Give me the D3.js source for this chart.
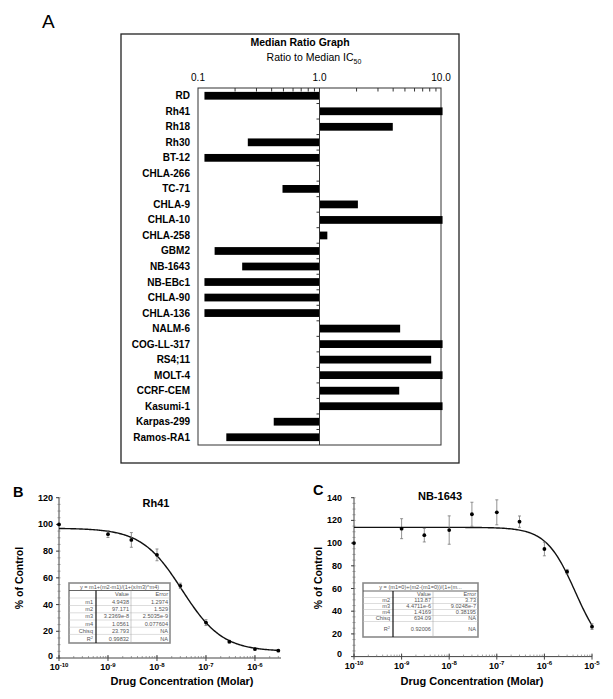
<!DOCTYPE html>
<html><head><meta charset="utf-8">
<script src="https://cdn.jsdelivr.net/npm/d3@7"></script>
<style>body{margin:0;background:#fff}svg{display:block;font-family:"Liberation Sans",Arial,sans-serif}</style>
</head><body><svg id="c" width="613" height="699"></svg>
<script>
// ---------- DATA ----------
const cellLines = ["RD","Rh41","Rh18","Rh30","BT-12","CHLA-266","TC-71","CHLA-9","CHLA-10","CHLA-258","GBM2","NB-1643","NB-EBc1","CHLA-90","CHLA-136","NALM-6","COG-LL-317","RS4;11","MOLT-4","CCRF-CEM","Kasumi-1","Karpas-299","Ramos-RA1"];
const ratios = [0.113,10.3,4.01,0.257,0.113,1.0,0.496,2.07,10.3,1.16,0.137,0.231,0.113,0.113,0.113,4.61,10.3,8.3,10.3,4.53,10.3,0.42,0.171];
const ratioTicks = [0.1,1,10];
const ratioTickLabels = ["0.1","1.0","10.0"];

const concB = [1e-10,1e-9,3e-9,1e-8,3e-8,1e-7,3e-7,1e-6,3e-6];
const pctB  = [100,92.7,88.4,77.2,54,26.5,12.2,6.7,5.5];
const errB  = [0,2.5,5.5,4.4,2,2.2,1,0.8,0.6];
const fitNamesB = ["m1","m2","m3","m4","Chisq","R²"];
const fitValuesB = ["4.9438","97.171","3.2369e-8","1.0561","23.793","0.99832"];
const fitErrorsB = ["1.2974","1.529","2.5035e-9","0.077604","NA","NA"];
const fitParamsB = [4.9438,97.171,3.2369e-8,1.0561]; // m1,m2,m3,m4

const concC = [1e-10,1e-9,3e-9,1e-8,3e-8,1e-7,3e-7,1e-6,3e-6,1e-5];
const pctC  = [100,112.7,107,111.5,125.4,127.1,118.9,94.8,74.8,26.4];
const errC  = [0,8.8,6,12.5,10.6,11,5,6,2,2.5];
const fitNamesC = ["m2","m3","m4","Chisq","R²"];
const fitValuesC = ["113.87","4.4711e-6","1.4169","634.09","0.92006"];
const fitErrorsC = ["3.73","9.0248e-7","0.38195","NA","NA"];
const fitParamsC = [0,113.87,4.4711e-6,1.4169];

const yTicksB = [0,20,40,60,80,100,120];
const yTicksC = [0,20,40,60,80,100,120,140];
const decadesB = [-10,-9,-8,-7,-6];
const decadesC = [-10,-9,-8,-7,-6,-5];

// ---------- DRAW ----------
const svg = d3.select("#c");

// Panel A
svg.append("text").attr("x",42).attr("y",28).attr("font-size",19).text("A");
svg.append("rect").attr("x",121).attr("y",34).attr("width",338).attr("height",429)
  .attr("fill","none").attr("stroke","#222").attr("stroke-width",1.3);
svg.append("text").attr("x",300).attr("y",46).attr("text-anchor","middle")
  .attr("font-size",10.5).attr("font-weight","bold").text("Median Ratio Graph");
const sub = svg.append("text").attr("x",314).attr("y",61).attr("text-anchor","middle").attr("font-size",10.5);
sub.append("tspan").text("Ratio to Median IC");
sub.append("tspan").attr("font-size",7).attr("dy",2.5).text("50");

const xA = d3.scaleLog().domain([0.1,10]).range([198,441]);
const yA = d3.scaleBand().domain(cellLines).range([88,445]).paddingInner(0.5).paddingOuter(0.25);

const gA = svg.append("g");
gA.append("rect").attr("x",xA(0.1)).attr("y",88).attr("width",xA(10)-xA(0.1)).attr("height",357)
  .attr("fill","none").attr("stroke","#333").attr("stroke-width",1);
const minorA = xA.ticks().filter(t=>!ratioTicks.some(r=>Math.abs(r-t)<1e-9));
gA.append("g").attr("transform","translate(0,88)")
  .call(d3.axisTop(xA).tickValues(minorA).tickSizeInner(-3.5).tickSizeOuter(0).tickFormat(""))
  .call(g=>{g.select(".domain").remove();g.selectAll("line").attr("stroke","#333");});
gA.selectAll("text.tl").data(ratioTicks).join("text").attr("class","tl")
  .attr("x",d=>xA(d)).attr("y",81).attr("text-anchor","middle").attr("font-size",10)
  .text((d,i)=>ratioTickLabels[i]);
gA.selectAll("rect.bar").data(cellLines).join("rect").attr("class","bar")
  .attr("x",(d,i)=>Math.min(xA(1),xA(ratios[i])))
  .attr("width",(d,i)=>Math.abs(xA(ratios[i])-xA(1)))
  .attr("y",d=>yA(d)).attr("height",yA.bandwidth()).attr("fill","#000");
gA.append("line").attr("x1",xA(1)).attr("x2",xA(1)).attr("y1",88).attr("y2",445).attr("stroke","#333");
gA.selectAll("line.ct").data(cellLines.slice(1)).join("line").attr("class","ct")
  .attr("x1",xA(1)-3).attr("x2",xA(1))
  .attr("y1",d=>yA(d)-yA.step()*yA.paddingInner()/2).attr("y2",d=>yA(d)-yA.step()*yA.paddingInner()/2)
  .attr("stroke","#333");
gA.selectAll("text.cl").data(cellLines).join("text").attr("class","cl")
  .attr("x",190).attr("y",d=>yA(d)+yA.bandwidth()/2+3.5).attr("text-anchor","end")
  .attr("font-size",10).attr("font-weight","bold").text(d=>d);

// ---------- dose-response panels ----------
function panel(cfg){
  const g = svg.append("g");
  const x = d3.scaleLog().domain(cfg.xDom).range(cfg.xRange);
  const y = d3.scaleLinear().domain(cfg.yDom).range(cfg.yRange);
  const y0 = cfg.yRange[0], xl = cfg.xRange[0];
  g.append("text").attr("x",cfg.letterX).attr("y",cfg.letterY).attr("font-size",14.5).attr("font-weight","bold").text(cfg.letter);
  g.append("text").attr("x",cfg.titleX).attr("y",cfg.titleY).attr("text-anchor","middle")
    .attr("font-size",11).attr("font-weight","bold").text(cfg.title);
  // y axis
  g.append("line").attr("x1",xl).attr("x2",xl).attr("y1",y0).attr("y2",y(cfg.yDom[1])).attr("stroke","#444");
  const minorY = d3.range(cfg.yDom[0],cfg.yDom[1]+0.1,5);
  g.selectAll("line.my").data(minorY).join("line").attr("class","my")
    .attr("x1",xl-1.5).attr("x2",xl+1.5).attr("y1",d=>y(d)).attr("y2",d=>y(d)).attr("stroke","#777").attr("stroke-width",0.7);
  g.selectAll("line.My").data(cfg.yTicks).join("line").attr("class","My")
    .attr("x1",xl-3).attr("x2",xl).attr("y1",d=>y(d)).attr("y2",d=>y(d)).attr("stroke","#444");
  g.selectAll("text.yt").data(cfg.yTicks).join("text").attr("class","yt")
    .attr("x",cfg.yLabX).attr("y",d=>d===0 ? y(d)+0.5 : y(d)+3).attr("text-anchor","end")
    .attr("font-size",9).attr("font-weight","bold").text(d=>d);
  // x axis
  g.append("line").attr("x1",xl).attr("x2",cfg.xRange[1]).attr("y1",y0).attr("y2",y0).attr("stroke","#444");
  const minorX = x.ticks().filter(t=>t>=cfg.xDom[0]&&t<=cfg.xDom[1]);
  g.selectAll("line.mx").data(minorX).join("line").attr("class","mx")
    .attr("x1",d=>x(d)).attr("x2",d=>x(d)).attr("y1",y0).attr("y2",y0-2).attr("stroke","#777").attr("stroke-width",0.7);
  g.selectAll("line.Mx").data(cfg.decades).join("line").attr("class","Mx")
    .attr("x1",d=>x(Math.pow(10,d))).attr("x2",d=>x(Math.pow(10,d))).attr("y1",y0-3).attr("y2",y0+3).attr("stroke","#444");
  const xt = g.selectAll("text.xt").data(cfg.decades).join("text").attr("class","xt")
    .attr("x",d=>x(Math.pow(10,d))).attr("y",y0+12).attr("text-anchor","middle")
    .attr("font-size",9).attr("font-weight","bold");
  xt.append("tspan").text("10");
  xt.append("tspan").attr("font-size",6).attr("dy",-3.5).text(d=>String(d));
  // axis titles
  g.append("text").attr("x",cfg.xTitleX).attr("y",685).attr("text-anchor","middle")
    .attr("font-size",11).attr("font-weight","bold").text("Drug Concentration (Molar)");
  g.append("text").attr("transform",`translate(${cfg.yTitleX},578) rotate(-90)`).attr("text-anchor","middle")
    .attr("font-size",10.5).attr("font-weight","bold").text("% of Control");
  // fitted curve from the fit parameters shown in the table
  const [m1,m2,m3,m4] = cfg.fit;
  const lx0 = Math.log10(cfg.conc[0]), lx1 = Math.log10(cfg.conc[cfg.conc.length-1]);
  const samples = d3.range(0,201).map(i=>Math.pow(10,lx0+(lx1-lx0)*i/200));
  g.append("path").datum(samples).attr("fill","none").attr("stroke","#111").attr("stroke-width",1.4)
    .attr("d",d3.line().x(d=>x(d)).y(d=>y(m1+(m2-m1)/(1+Math.pow(d/m3,m4)))));
  // error bars
  cfg.conc.forEach((c,i)=>{
    const e = cfg.err[i]; if(!e) return;
    const cx = x(c);
    g.append("line").attr("x1",cx).attr("x2",cx).attr("y1",y(cfg.pct[i]-e)).attr("y2",y(cfg.pct[i]+e)).attr("stroke","#777").attr("stroke-width",0.8);
    [cfg.pct[i]-e,cfg.pct[i]+e].forEach(v=>g.append("line").attr("x1",cx-1.5).attr("x2",cx+1.5).attr("y1",y(v)).attr("y2",y(v)).attr("stroke","#777").attr("stroke-width",0.8));
  });
  g.selectAll("circle.pt").data(cfg.conc).join("circle").attr("class","pt")
    .attr("cx",d=>x(d)).attr("cy",(d,i)=>y(cfg.pct[i])).attr("r",1.9).attr("fill","#000");
  // table
  const t = cfg.table;
  const tg = g.append("g");
  const W = t.cols[3]-t.cols[0];
  tg.append("rect").attr("x",t.cols[0]).attr("y",t.rows[0]).attr("width",W).attr("height",t.rows[t.rows.length-1]-t.rows[0])
    .attr("fill","#fff").attr("stroke","#8a8a8a").attr("stroke-width",1.6);
  t.rows.slice(1,-1).forEach((ry,k)=>tg.append("line").attr("x1",t.cols[0]).attr("x2",t.cols[3]).attr("y1",ry).attr("y2",ry)
    .attr("stroke",k===0?"#555":"#bbb").attr("stroke-width",k===0?0.9:0.5));
  tg.append("line").attr("x1",t.cols[1]).attr("x2",t.cols[1]).attr("y1",t.rows[1]).attr("y2",t.rows[t.rows.length-1]).attr("stroke","#111").attr("stroke-width",1.2);
  tg.append("line").attr("x1",t.cols[2]).attr("x2",t.cols[2]).attr("y1",t.rows[1]).attr("y2",t.rows[t.rows.length-1]).attr("stroke","#aaa").attr("stroke-width",0.6);
  const fs = 5.6, col="#555";
  tg.append("text").attr("x",(t.cols[0]+t.cols[3])/2).attr("y",t.rows[1]-1.8).attr("text-anchor","middle").attr("font-size",fs).attr("fill",col).text(t.header);
  tg.append("text").attr("x",t.cols[2]-2).attr("y",t.rows[2]-1.8).attr("text-anchor","end").attr("font-size",fs).attr("fill",col).text("Value");
  tg.append("text").attr("x",t.cols[3]-2).attr("y",t.rows[2]-1.8).attr("text-anchor","end").attr("font-size",fs).attr("fill",col).text("Error");
  t.names.forEach((n,i)=>{
    const by = (i===t.names.length-1) ? (t.rows[i+2]+t.rows[i+3])/2+2 : t.rows[i+3]-1.6;
    const nt = tg.append("text").attr("x",t.cols[1]-3).attr("y",by).attr("text-anchor","end").attr("font-size",fs).attr("fill",col);
    if(n==="R²"){nt.append("tspan").text("R");nt.append("tspan").attr("font-size",4).attr("dy",-2).text("2");}
    else nt.text(n);
    tg.append("text").attr("x",t.cols[2]-2).attr("y",by).attr("text-anchor","end").attr("font-size",fs).attr("fill",col).text(t.vals[i]);
    tg.append("text").attr("x",t.cols[3]-2).attr("y",by).attr("text-anchor","end").attr("font-size",fs).attr("fill",col).text(t.errs[i]);
  });
}

panel({letter:"B",letterX:13,letterY:497,title:"Rh41",titleX:156,titleY:507,
  xDom:[1e-10,3.4e-6],xRange:[59,281],yDom:[0,120],yRange:[658,497.7],yTicks:yTicksB,yLabX:53,
  decades:decadesB,xTitleX:182,yTitleX:23,conc:concB,pct:pctB,err:errB,fit:fitParamsB,
  table:{cols:[69,96,131,170],rows:[583,590.5,598,605.5,612.8,620,627.2,634.4,643],
    header:"y = m1+(m2-m1)/(1+(x/m3)^m4)",names:fitNamesB,vals:fitValuesB,errs:fitErrorsB}});

panel({letter:"C",letterX:313,letterY:495,title:"NB-1643",titleX:440,titleY:500,
  xDom:[1e-10,1e-5],xRange:[354,592],yDom:[0,140],yRange:[656.6,497.7],yTicks:yTicksC,yLabX:342,
  decades:decadesC,xTitleX:472,yTitleX:322,conc:concC,pct:pctC,err:errC,fit:fitParamsC,
  table:{cols:[363,393,433,478],rows:[583,591,597.5,603.5,609.5,615.5,621.5,637],
    header:"y = (m1=0)+(m2-(m1=0))/(1+(m...",names:fitNamesC,vals:fitValuesC,errs:fitErrorsC}});
</script></body></html>
